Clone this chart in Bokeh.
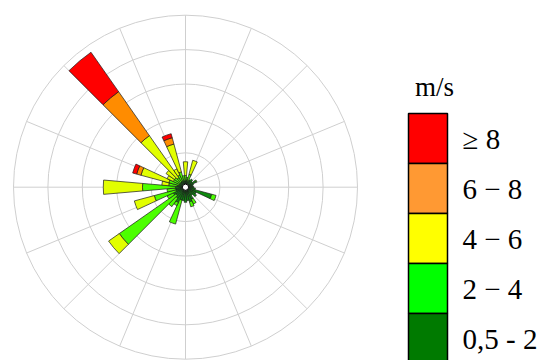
import numpy as np
from bokeh.plotting import figure
from bokeh.models import Range1d
from bokeh.embed import file_html
from bokeh.resources import INLINE
from bokeh.core.properties import value

# ---------------- data ----------------
directions = list(range(0, 360, 10))  # compass bearing, degrees
# frequency per speed class per direction (ring spacing = 1)
s_05_2 = [0.10, 0.12, 0.10, 0.15, 0.20, 0.15, 0.25, 0.15, 0.12, 0.15, 0.20, 0.70,
          0.25, 0.30, 0.20, 0.30, 0.35, 0.30, 0.35, 0.30, 0.30, 0.40, 0.30, 0.25,
          0.30, 0.20, 0.20, 0.20, 0.15, 0.10, 0.10, 0.10, 0.10, 0.10, 0.10, 0.10]
s_2_4 = [0.15, 0.08, 0.20, 0.00, 0.00, 0.00, 0.03, 0.00, 0.00, 0.00, 0.00, 0.13,
         0.00, 0.00, 0.00, 0.15, 0.15, 0.00, 0.00, 0.00, 0.72, 0.10, 0.30, 2.01,
         0.20, 0.65, 0.25, 0.96, 0.25, 0.31, 0.20, 0.20, 0.15, 0.20, 0.27, 0.15]
s_4_6 = [0.40, 0.00, 0.42, 0.00, 0.00, 0.00, 0.00, 0.00, 0.00, 0.00, 0.00, 0.00,
         0.00, 0.00, 0.00, 0.00, 0.00, 0.00, 0.00, 0.00, 0.00, 0.00, 0.00, 0.38,
         0.00, 0.60, 0.00, 1.14, 0.20, 0.84, 0.20, 0.30, 1.49, 0.20, 0.84, 0.00]
s_6_8 = [0.00] * 29 + [0.13, 0.00, 0.00, 1.56, 0.00, 0.19, 0.00]
s_8 = [0.00] * 29 + [0.12, 0.00, 0.00, 1.40, 0.00, 0.12, 0.00]

classes = ["0,5 - 2", "2 \u2212 4", "4 \u2212 6", "6 \u2212 8", "\u2265 8"]
bar_colors = ["#0E8A0E", "#4CFF00", "#E2FF00", "#FF8C00", "#FF0000"]
legend_colors = ["#007A00", "#00FF00", "#FFFF00", "#FF9933", "#FF0000"]
legend_title = "m/s"

# ---------------- geometry ----------------
W, H = 544, 360
PX = 34.4              # pixels per ring unit
CX, CY = 185.0, 186.7  # centre in pixels (from top-left)

def dx(px):
    return (px - CX) / PX

def dy(py):
    return (CY - py) / PX

p = figure(width=W, height=H, output_backend="svg", toolbar_location=None,
           x_range=Range1d(dx(0), dx(W)), y_range=Range1d(dy(H), dy(0)),
           min_border=0, x_axis_type=None, y_axis_type=None)
p.grid.visible = False
p.outline_line_color = None
p.background_fill_color = "white"

# grid circles and spokes
rings = [1, 2, 3, 4, 5]
p.circle(x=[0] * len(rings), y=[0] * len(rings), radius=rings,
         fill_color=None, line_color="#CFCFCF", line_width=1)
sp = np.radians(np.arange(0, 360, 22.5))
p.segment(x0=0, y0=0, x1=5 * np.cos(sp), y1=5 * np.sin(sp),
          line_color="#CFCFCF", line_width=1)

# stacked wedges
series = [s_05_2, s_2_4, s_4_6, s_6_8, s_8]
d = np.array(directions, dtype=float)
start = np.radians(90 - d - 5)
end = np.radians(90 - d + 5)
r0 = 0.09
inner = np.full(len(d), r0)
for vals, col in zip(series, bar_colors):
    v = np.array(vals)
    outer = inner + v
    m = v > 0
    if m.any():
        p.annular_wedge(x=0, y=0, inner_radius=inner[m], outer_radius=outer[m],
                        start_angle=start[m], end_angle=end[m],
                        direction="anticlock", fill_color=col,
                        line_color="#1A1A1A", line_width=0.7)
    inner = outer

p.circle(x=[0], y=[0], radius=r0, fill_color="white", line_color="black", line_width=1)

# legend (colour boxes)
box_left, box_right = 408, 447
tops = [113, 163, 213, 263, 313]
heights = 50
lc = list(reversed(legend_colors))
labels = list(reversed(classes))
p.quad(left=[dx(box_left)] * 5, right=[dx(box_right)] * 5,
       top=[dy(t) for t in tops], bottom=[dy(t + heights) for t in tops],
       fill_color=lc, line_color="black", line_width=1.5)
p.text(x=[dx(462)] * 5, y=[dy(t + heights / 2) for t in tops], text=labels,
       text_font=value("Times New Roman"), text_font_size="29px",
       text_baseline="middle", text_align="left", text_color="black")
p.text(x=[dx(434)], y=[dy(86)], text=[legend_title],
       text_font=value("Times New Roman"), text_font_size="27px",
       text_baseline="middle", text_align="center", text_color="black")

open("out.html", "w").write(file_html(p, INLINE))
